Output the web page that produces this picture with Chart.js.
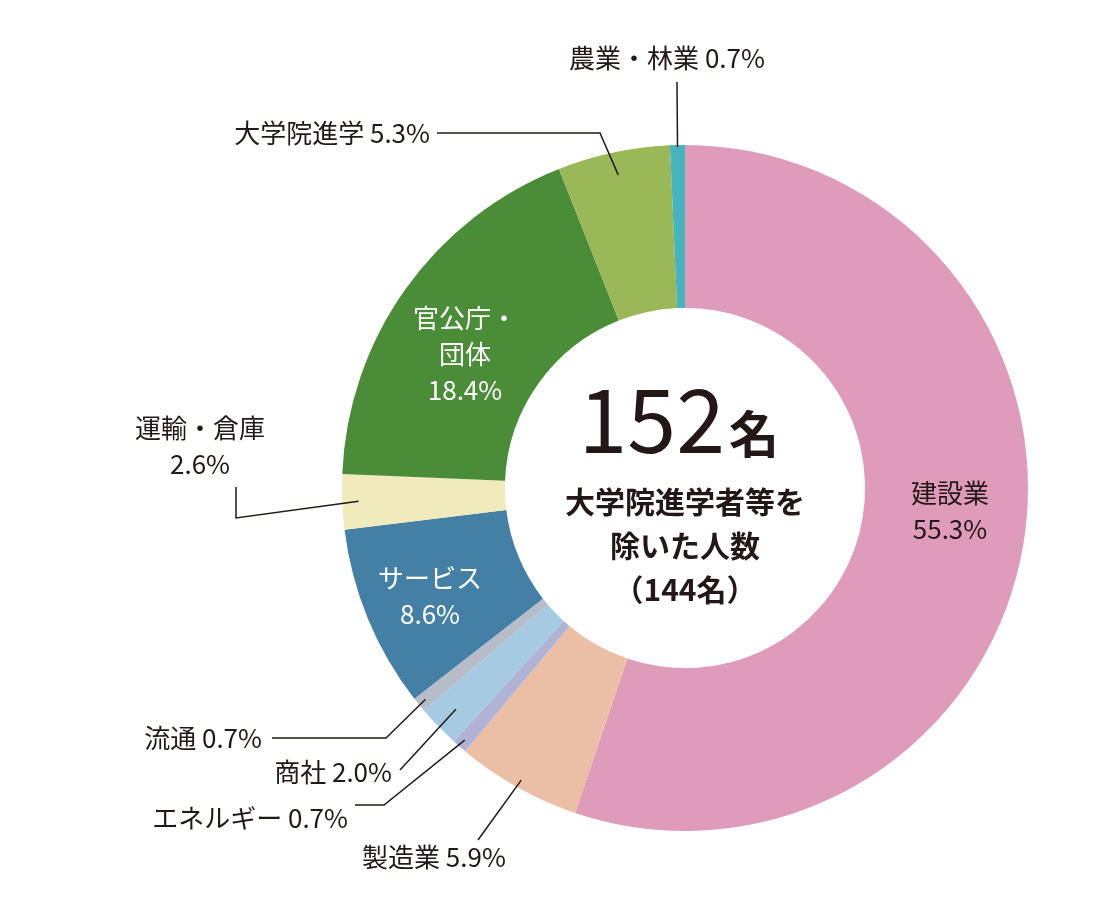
<!DOCTYPE html>
<html><head><meta charset="utf-8">
<script src="https://cdn.jsdelivr.net/npm/chart.js@4.4.0/dist/chart.umd.min.js"></script>
<style>body{margin:0;background:#fff}canvas{display:block}</style>
</head><body>
<canvas id="c" width="1100" height="900"></canvas>
<script>
// データ
const categories = ['建設業', '製造業', 'エネルギー', '商社', '流通', 'サービス', '運輸・倉庫', '官公庁・団体', '大学院進学', '農業・林業'];
const shares = [55.3, 5.9, 0.7, 2.0, 0.7, 8.6, 2.6, 18.4, 5.3, 0.7];
const sliceColors = ['#df9cba', '#eabfa5', '#b1b3d5', '#a5cae1', '#b6bdc9', '#447fa6', '#f0eabc', '#4b8c38', '#9ab857', '#49b3bd'];
const totalLabel = '152';
const fontJP = "'Noto Sans CJK JP', 'Noto Sans', sans-serif";
const ink = '#231815';

// ラベル配置 (index, テキスト行, 位置, 折れ点, 半径比)
const outsideLabels = [
  { i: 9, lines: ['農業・林業 0.7%'], x: 667, y: 58, align: 'center', path: [[677, 82]], r: 0.99 },
  { i: 8, lines: ['大学院進学 5.3%'], x: 430, y: 133, align: 'right', path: [[437, 133], [600, 133]], r: 0.86 },
  { i: 6, lines: ['運輸・倉庫', '2.6%'], x: 200, y: 428, align: 'center', path: [[236, 487], [236, 518]], r: 0.9 },
  { i: 4, lines: ['流通 0.7%'], x: 262, y: 738, align: 'right', path: [[272, 738], [386, 738]], r: 0.95 },
  { i: 3, lines: ['商社 2.0%'], x: 392, y: 772, align: 'right', path: [[400, 770]], r: 0.85 },
  { i: 2, lines: ['エネルギー 0.7%'], x: 348, y: 818, align: 'right', path: [[355, 805], [384, 805]], r: 0.95 },
  { i: 1, lines: ['製造業 5.9%'], x: 362, y: 857, align: 'left', path: [[478, 840]], r: 0.95 },
];
const insideLabels = [
  { lines: ['官公庁・', '団体', '18.4%'], x: 465, y: 318, color: '#fff' },
  { lines: ['サービス', '8.6%'], x: 430, y: 578, color: '#fff' },
  { lines: ['建設業', '55.3%'], x: 950, y: 493, color: ink },
];

const labelPlugin = {
  id: 'labels',
  afterDraw(chart) {
    const ctx = chart.ctx;
    const arcs = chart.getDatasetMeta(0).data;
    ctx.save();
    ctx.font = `26px ${fontJP}`;
    ctx.textBaseline = 'middle';
    outsideLabels.forEach(l => {
      const a = arcs[l.i];
      const mid = (a.startAngle + a.endAngle) / 2;
      const rr = a.innerRadius + (a.outerRadius - a.innerRadius) * l.r;
      const px = a.x + Math.cos(mid) * rr, py = a.y + Math.sin(mid) * rr;
      ctx.strokeStyle = ink; ctx.lineWidth = 1.5;
      ctx.beginPath();
      ctx.moveTo(l.path[0][0], l.path[0][1]);
      l.path.slice(1).forEach(p => ctx.lineTo(p[0], p[1]));
      ctx.lineTo(px, py);
      ctx.stroke();
      ctx.fillStyle = ink; ctx.textAlign = l.align;
      l.lines.forEach((t, k) => ctx.fillText(t, l.x, l.y + k * 36));
    });
    ctx.textAlign = 'center';
    insideLabels.forEach(l => {
      ctx.fillStyle = l.color;
      l.lines.forEach((t, k) => ctx.fillText(t, l.x, l.y + k * 36));
    });
    // 中央
    const cx = arcs[0].x;
    ctx.fillStyle = ink;
    ctx.font = `88px ${fontJP}`;
    ctx.textAlign = 'right';
    ctx.fillText(totalLabel, cx + 40, 420);
    ctx.font = `bold 50px ${fontJP}`;
    ctx.textAlign = 'left';
    ctx.fillText('名', cx + 44, 434);
    ctx.font = `bold 30px ${fontJP}`;
    ctx.textAlign = 'center';
    ctx.fillText('大学院進学者等を', cx, 502);
    ctx.fillText('除いた人数', cx, 546);
    ctx.fillText('（144名）', cx, 590);
    ctx.restore();
  }
};

new Chart(document.getElementById('c'), {
  type: 'doughnut',
  data: {
    labels: categories,
    datasets: [{ data: shares, backgroundColor: sliceColors, borderWidth: 0 }]
  },
  options: {
    responsive: false,
    animation: false,
    cutout: '52.5%',
    layout: { padding: { left: 342, right: 72, top: 145, bottom: 69 } },
    plugins: { legend: { display: false }, tooltip: { enabled: false } }
  },
  plugins: [labelPlugin]
});
</script>
</body></html>
